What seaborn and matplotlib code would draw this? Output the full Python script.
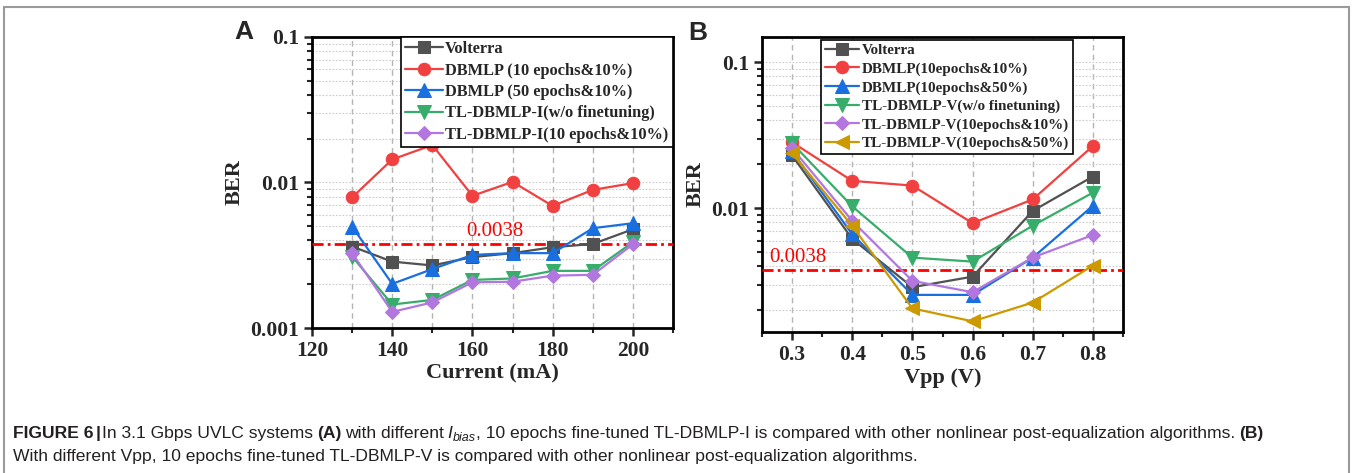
import matplotlib
matplotlib.use("Agg")
import numpy as np
import pandas as pd
import matplotlib.pyplot as plt
import seaborn as sns
from matplotlib.ticker import MultipleLocator, LogLocator, FuncFormatter, NullFormatter
from matplotlib.patches import Rectangle

# ---- data ----
current = [130, 140, 150, 160, 170, 180, 190, 200]
a_volterra = [0.00363, 0.00286, 0.00269, 0.00307, 0.00327, 0.00359, 0.00378, 0.00477]
a_dbmlp10 = [0.0079, 0.0144, 0.0181, 0.0081, 0.0101, 0.0069, 0.0089, 0.0099]
a_dbmlp50 = [0.00498, 0.00201, 0.00254, 0.00318, 0.00327, 0.00327, 0.00485, 0.00525]
a_tl_wo = [0.0031, 0.00145, 0.00156, 0.00214, 0.00219, 0.00247, 0.00247, 0.00389]
a_tl_10 = [0.00327, 0.00129, 0.0015, 0.00206, 0.00208, 0.00229, 0.00232, 0.00376]
labels_a = ["Volterra", "DBMLP (10 epochs&10%)", "DBMLP (50 epochs&10%)",
            "TL-DBMLP-I(w/o finetuning)", "TL-DBMLP-I(10 epochs&10%)"]

vpp = [0.3, 0.4, 0.5, 0.6, 0.7, 0.8]
b_volterra = [0.0230, 0.00616, 0.00288, 0.0034, 0.0096, 0.0165]
b_dbmlp10 = [0.0283, 0.0154, 0.0143, 0.0079, 0.0115, 0.0267]
b_dbmlp50 = [0.0245, 0.00664, 0.00255, 0.00255, 0.00459, 0.0104]
b_tl_wo = [0.0279, 0.0103, 0.00459, 0.00431, 0.0076, 0.0128]
b_tl_10 = [0.0258, 0.00819, 0.00318, 0.00266, 0.0046, 0.00656]
b_tl_50 = [0.0238, 0.00757, 0.00206, 0.00168, 0.00226, 0.00405]
labels_b = ["Volterra", "DBMLP(10epochs&10%)", "DBMLP(10epochs&50%)",
            "TL-DBMLP-V(w/o finetuning)", "TL-DBMLP-V(10epochs&10%)",
            "TL-DBMLP-V(10epochs&50%)"]

threshold = 0.0038

colors = ["#515151", "#F14040", "#1A6FDF", "#37AD6B", "#B177DE", "#CC9900"]
markers = ["s", "o", "^", "v", "D", "<"]
msizes = [8, 9, 9.5, 9.5, 7.5, 9.5]

sns.set_style("ticks")
plt.rcParams["font.family"] = ["Liberation Serif", "DejaVu Serif"]
plt.rcParams["font.weight"] = "bold"
plt.rcParams["axes.labelweight"] = "bold"

fig = plt.figure(figsize=(13.52, 4.73), dpi=100)
W, H = 1352, 473

def px_axes(l, r, t, b):
    return fig.add_axes([l / W, (H - b) / H, (r - l) / W, (b - t) / H])

axa = px_axes(312, 673, 37, 328)
axb = px_axes(762, 1123, 37, 332)

def draw_series(ax, x, series, labels):
    for i, (ys, lab) in enumerate(zip(series, labels)):
        sns.lineplot(x=x, y=ys, ax=ax, color=colors[i], marker=markers[i],
                     markersize=msizes[i], markeredgecolor=colors[i],
                     linewidth=1.6, label=lab, zorder=5 + i)

draw_series(axa, current, [a_volterra, a_dbmlp10, a_dbmlp50, a_tl_wo, a_tl_10], labels_a)
draw_series(axb, vpp, [b_volterra, b_dbmlp10, b_dbmlp50, b_tl_wo, b_tl_10, b_tl_50], labels_b)

fmt = FuncFormatter(lambda v, p: {0.1: "0.1", 0.01: "0.01", 0.001: "0.001"}.get(round(v, 6), ""))

for ax in (axa, axb):
    ax.set_yscale("log")
    ax.yaxis.set_major_locator(LogLocator(base=10))
    ax.yaxis.set_minor_locator(LogLocator(base=10, subs=np.arange(2, 10)))
    ax.yaxis.set_major_formatter(fmt)
    ax.yaxis.set_minor_formatter(NullFormatter())
    ax.grid(False)
    ax.grid(True, axis="y", which="both", color="#cccccc", linestyle=(0, (1.5, 1.5)), linewidth=0.8, zorder=0)
    for s in ax.spines.values():
        s.set_linewidth(2)
        s.set_color("black")
    ax.tick_params(axis="both", which="major", direction="out", length=6, width=1.8,
                   labelsize=15.5, top=False, right=False)
    ax.tick_params(axis="both", which="minor", direction="out", length=3.5, width=1.5,
                   top=False, right=False)
    ax.set_ylabel("BER", fontsize=16, fontweight="bold", labelpad=4)
    line = ax.axhline(threshold, color="#FF0000", linewidth=2, zorder=4)
    line.set_dashes((4, 1.5, 1, 1.5))
    for lab in ax.get_xticklabels() + ax.get_yticklabels():
        lab.set_fontweight("bold")

axa.set_xlim(120, 210)
axa.set_ylim(0.001, 0.1)
axa.xaxis.set_major_locator(MultipleLocator(20))
axa.xaxis.set_minor_locator(MultipleLocator(10))
axa.xaxis.set_major_formatter(FuncFormatter(lambda v, p: "" if v > 205 else f"{v:.0f}"))
axa.grid(True, axis="x", which="both", color="#b4b4b4", linestyle=(0, (4, 3)), linewidth=1, zorder=0)
axa.set_xlabel("Current (mA)", fontsize=16, fontweight="bold", labelpad=2)
axa.text(165.6, 0.00395, "0.0038", color="#FF0000", fontsize=15, fontweight="normal",
         ha="center", va="bottom", zorder=12)

axb.set_xlim(0.25, 0.85)
axb.set_ylim(0.00142, 0.149)
axb.xaxis.set_major_locator(MultipleLocator(0.1))
axb.xaxis.set_minor_locator(MultipleLocator(0.05))
axb.xaxis.set_major_formatter(FuncFormatter(lambda v, p: "" if (v < 0.29 or v > 0.81) else f"{v:.1f}"))
axb.grid(True, axis="x", which="major", color="#b4b4b4", linestyle=(0, (4, 3)), linewidth=1, zorder=0)
axb.set_xlabel("Vpp (V)", fontsize=16, fontweight="bold", labelpad=2)
axb.text(0.2615, 0.00395, "0.0038", color="#FF0000", fontsize=15, fontweight="normal",
         ha="left", va="bottom", zorder=12)

for ax, anchor, size, spacing in ((axa, (0.2465, 1.0), 11.8, 0.33),
                                  (axb, (0.163, 0.99), 10.9, 0.32)):
    leg = ax.legend(loc="upper left", bbox_to_anchor=anchor, borderaxespad=0,
                    frameon=True, fancybox=False, edgecolor="black", framealpha=1,
                    prop={"family": "Liberation Serif", "weight": "bold", "size": size},
                    handlelength=2.3, handletextpad=0.15, labelspacing=spacing,
                    borderpad=0.25)
    leg.get_frame().set_linewidth(1.2)
    leg.set_zorder(20)

fig.text(244 / W, (H - 32) / H, "A", fontsize=19, fontweight="bold", family="Liberation Sans",
         ha="center", va="center")
fig.text(698 / W, (H - 33) / H, "B", fontsize=19, fontweight="bold", family="Liberation Sans",
         ha="center", va="center")

# outer frame
fig.patches.append(Rectangle((4 / W, -0.2), 1345 / W, 0.2 + (H - 7) / H,
                             transform=fig.transFigure, fill=False, edgecolor="#9a9a9a",
                             linewidth=1.5, figure=fig))

# caption (mixed weights), placed piece by piece
renderer = fig.canvas.get_renderer()

def caption_line(x_px, y_px, parts, size):
    x = x_px
    for text, weight, style, dy, fs, gap in parts:
        t = fig.text(x / W, (H - y_px - dy) / H, text, fontsize=fs or size,
                     fontweight=weight, fontstyle=style, family="Liberation Sans",
                     ha="left", va="baseline", color="#231f20")
        bb = t.get_window_extent(renderer)
        x += bb.width + gap

cs = 12.6
sp = 3.6
caption_line(13, 438, [
    ("FIGURE 6", "bold", "normal", 0, None, 2),
    ("|", "bold", "normal", 0, None, 2),
    ("In 3.1 Gbps UVLC systems", "normal", "normal", 0, None, sp),
    ("(A)", "bold", "normal", 0, None, sp),
    ("with different", "normal", "normal", 0, None, sp),
    ("I", "normal", "italic", 0, None, 0),
    ("bias", "normal", "italic", 3, 9, 1),
    (", 10 epochs fine-tuned TL-DBMLP-I is compared with other nonlinear post-equalization algorithms.",
     "normal", "normal", 0, None, sp),
    ("(B)", "bold", "normal", 0, None, 0),
], cs)
caption_line(13, 461, [
    ("With different Vpp, 10 epochs fine-tuned TL-DBMLP-V is compared with other nonlinear post-equalization algorithms.",
     "normal", "normal", 0, None, 0),
], cs)

fig.savefig("out.png", dpi=100)
